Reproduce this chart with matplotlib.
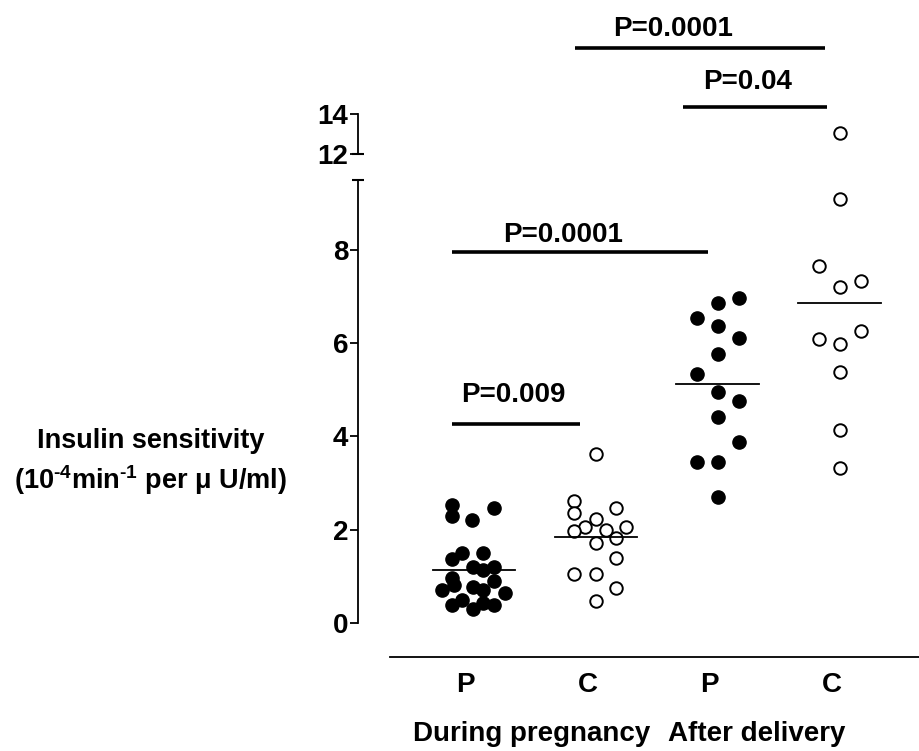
import numpy as np
import matplotlib
matplotlib.use("Agg")
import matplotlib.pyplot as plt

plt.rcParams['font.family'] = ['Liberation Sans', 'DejaVu Sans']
plt.rcParams['font.weight'] = 'bold'
plt.rcParams['mathtext.fontset'] = 'custom'
plt.rcParams['mathtext.rm'] = 'Liberation Sans:bold'
plt.rcParams['mathtext.it'] = 'Liberation Sans:bold'
plt.rcParams['mathtext.bf'] = 'Liberation Sans:bold'
plt.rcParams['mathtext.default'] = 'bf'
plt.rcParams['axes.unicode_minus'] = False

# data (x offset = horizontal scatter inside a group)
group_x = [1, 2, 3, 4]
group_labels = ['P', 'C', 'P', 'C']

preg_P = [2.53, 2.30, 2.21, 2.47, 1.37, 1.50, 1.50, 1.20, 1.14, 1.21, 0.96, 0.82,
          0.90, 0.71, 0.77, 0.71, 0.64, 0.39, 0.49, 0.30, 0.43, 0.39]
preg_P_dx = [-0.18, -0.18, -0.02, 0.16, -0.18, -0.10, 0.07, -0.01, 0.07, 0.16, -0.18, -0.16,
             0.16, -0.26, -0.01, 0.07, 0.25, -0.18, -0.10, -0.01, 0.07, 0.16]

preg_C = [3.63, 2.62, 2.36, 2.47, 2.23, 2.06, 1.97, 2.00, 2.06, 1.82, 1.72, 1.39,
          1.05, 1.05, 0.75, 0.47]
preg_C_dx = [0, -0.18, -0.18, 0.16, 0, -0.09, -0.18, 0.08, 0.25, 0.16, 0, 0.16,
             -0.18, 0, 0.16, 0]

post_P = [6.97, 6.87, 6.55, 6.36, 6.12, 5.77, 5.34, 4.96, 4.76, 4.42, 3.88, 3.45, 3.45, 2.70]
post_P_dx = [0.17, 0, -0.17, 0, 0.17, 0, -0.17, 0, 0.17, 0, 0.17, -0.17, 0, 0]

post_C = [13.05, 9.10, 7.66, 7.21, 7.34, 6.27, 6.09, 5.99, 5.39, 4.14, 3.33]
post_C_dx = [0, 0, -0.17, 0, 0.17, 0.17, -0.17, 0, 0, 0, 0]

# comparisons: (bar start, bar end, bar level, text level, text x, text)
p_lower = [(0.82, 1.87, 4.27, 4.74, 1.32, 'P=0.009'),
           (0.82, 2.92, 7.96, 8.18, 1.73, 'P=0.0001')]
p_upper = [(2.71, 3.89, 14.35, 15.25, 3.24, 'P=0.04'),
           (1.83, 3.88, 17.3, 17.9, 2.63, 'P=0.0001')]

FS = 20
W, H = 919, 751
fig = plt.figure(figsize=(W / 100, H / 100), dpi=100)
ax = fig.add_axes([358 / W, (H - 657) / H, (W - 358) / W, (657 - 180) / H])
ax2 = fig.add_axes([358 / W, (H - 154) / H, (W - 358) / W, 140 / H])

groups = [(preg_P, preg_P_dx, True), (preg_C, preg_C_dx, False),
          (post_P, post_P_dx, True), (post_C, post_C_dx, False)]

for a in (ax, ax2):
    for i, (vals, dx, filled) in enumerate(groups):
        xs = group_x[i] + np.array(dx)
        if filled:
            a.plot(xs, vals, 'o', color='black', markersize=9.5, linestyle='none')
        else:
            a.plot(xs, vals, 'o', markerfacecolor='white', markeredgecolor='black',
                   markeredgewidth=1.4, markersize=9, linestyle='none')
    a.set_xlim(0.049, 4.648)
    for s in ['top', 'right']:
        a.spines[s].set_visible(False)
    a.spines['left'].set_linewidth(1.3)

# mean lines
for i, (vals, dx, filled) in enumerate(groups):
    m = np.mean(vals)
    ax.plot([group_x[i] - 0.34, group_x[i] + 0.34], [m, m], color='black', lw=1.3)

for x0, x1, y, ty, tx, t in p_lower:
    ax.plot([x0, x1], [y, y], color='black', lw=2.6, solid_capstyle='butt')
    ax.text(tx, ty, t, ha='center', va='baseline', fontsize=FS, fontweight='bold')
for x0, x1, y, ty, tx, t in p_upper:
    ax2.plot([x0, x1], [y, y], color='black', lw=2.6, solid_capstyle='butt', clip_on=False)
    ax2.text(tx, ty, t, ha='center', va='baseline', fontsize=FS, fontweight='bold')

# lower axis
ax.set_ylim(-0.73, 9.5)
ax.spines['left'].set_bounds(0, 9.5)
ax.spines['bottom'].set_bounds(0.311, 4.648)
ax.spines['bottom'].set_linewidth(1.3)
ax.set_yticks([0, 2, 4, 6, 8])
ax.tick_params(axis='y', length=6, width=1.3, pad=1, labelsize=FS)
ax.set_xticks(np.array(group_x) - 0.07)
ax.set_xticklabels(group_labels, fontsize=FS, fontweight='bold')
ax.tick_params(axis='x', length=0, pad=11)
ax.plot([0.049], [9.5], marker='_', color='black', markersize=9, mew=1.5, clip_on=False)

ax.text(1.475, -0.176, 'During pregnancy', transform=ax.get_xaxis_transform(),
        ha='center', va='baseline', fontsize=FS, fontweight='bold')
ax.text(3.32, -0.176, 'After delivery', transform=ax.get_xaxis_transform(),
        ha='center', va='baseline', fontsize=FS, fontweight='bold')

# upper axis
ax2.set_ylim(12, 19)
ax2.spines['left'].set_bounds(12, 14)
ax2.spines['bottom'].set_visible(False)
ax2.set_xticks([])
ax2.set_yticks([12, 14])
ax2.tick_params(axis='y', length=6, width=1.3, pad=1, labelsize=FS)
ax2.patch.set_visible(False)
ax2.plot([0.049], [12], marker='_', color='black', markersize=9, mew=1.5, clip_on=False)

fig.text(151 / W, 1 - 441 / H, 'Insulin sensitivity', ha='center', va='center',
         fontsize=19.5, fontweight='bold')
fig.text(151 / W, 1 - 480 / H, '(10$^{\u20104}$min$^{\u20101}$ per μ U/ml)', ha='center',
         va='center', fontsize=19.5, fontweight='bold')

fig.savefig('out.png', dpi=100)
